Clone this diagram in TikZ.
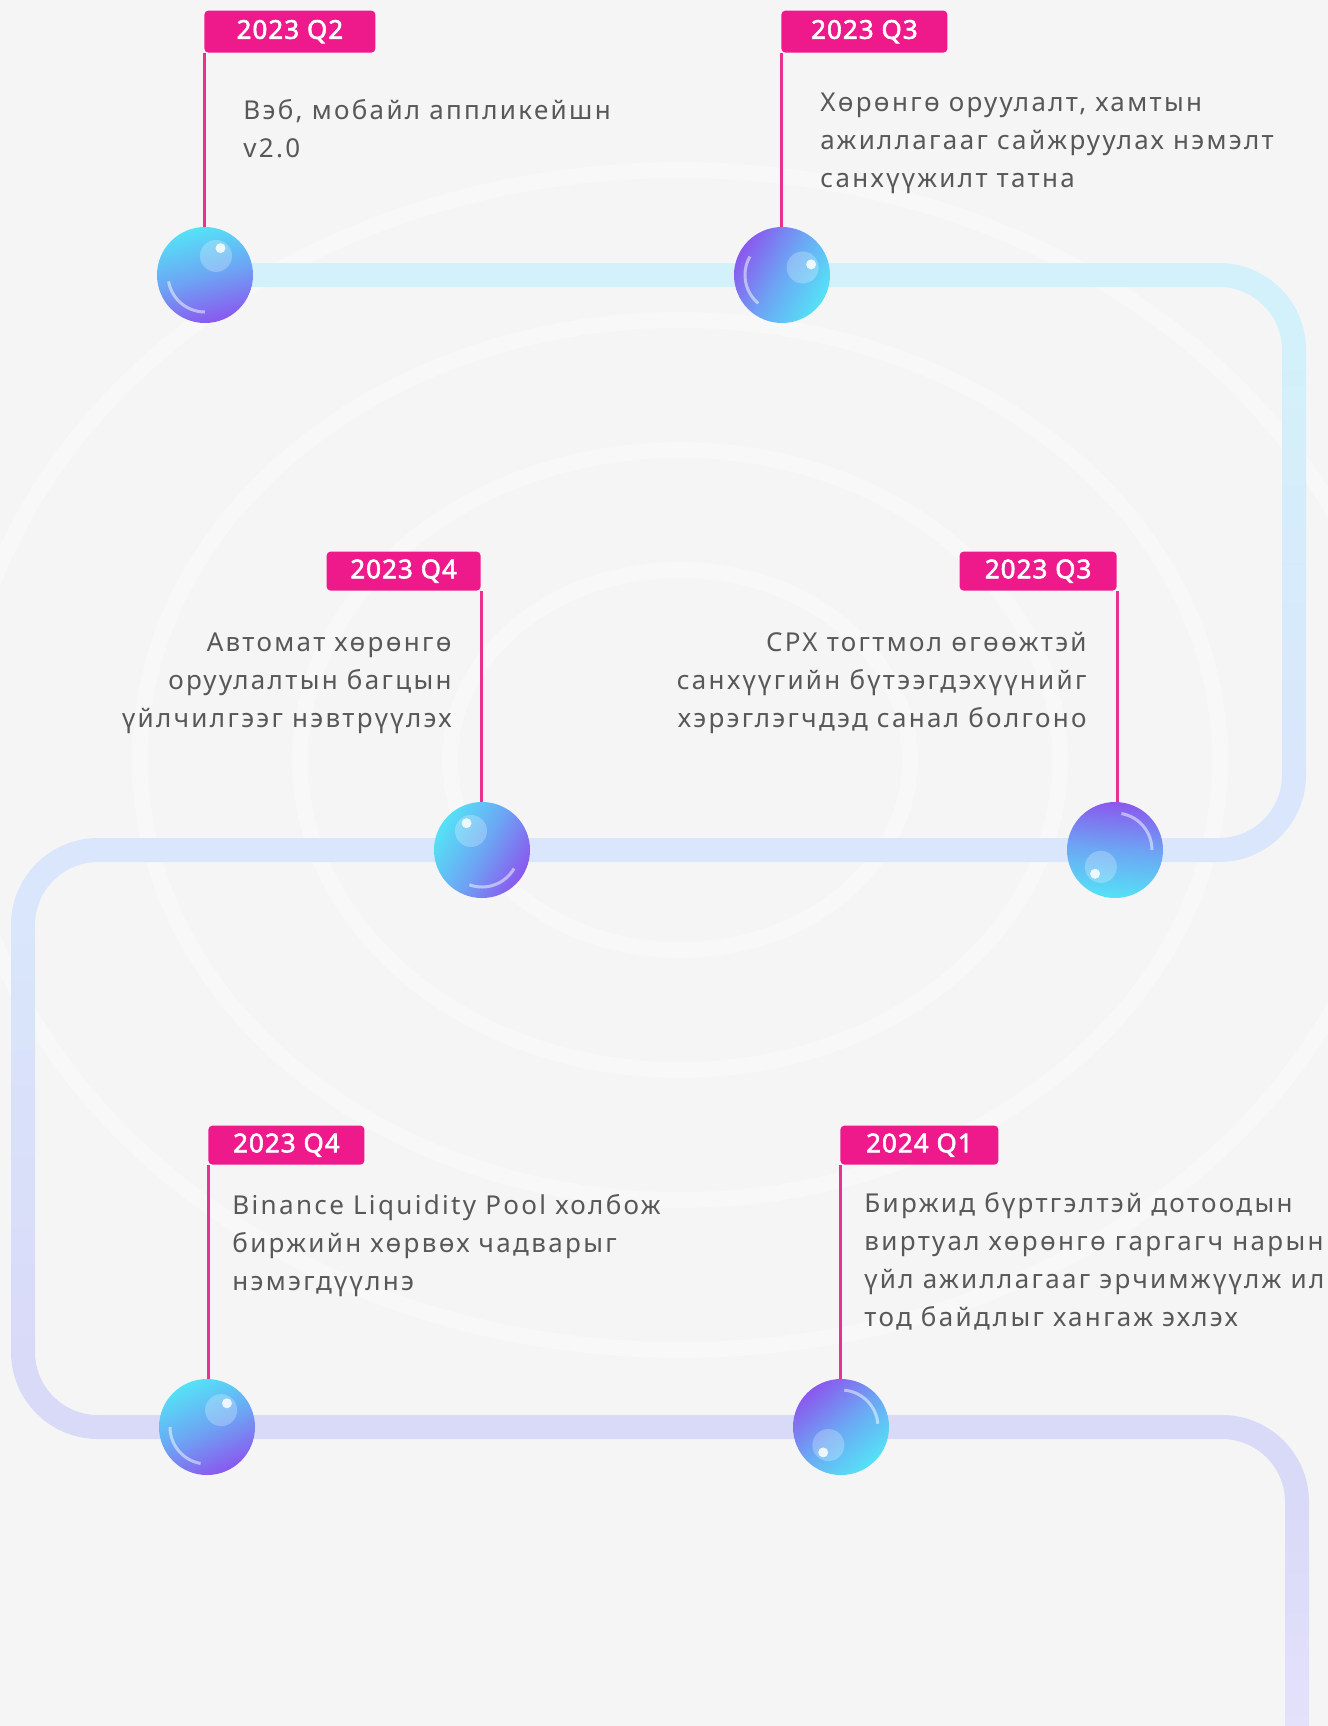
\documentclass[tikz,border=0pt]{standalone}
\usepackage{fontspec}
\setmainfont{Noto Sans}[LetterSpace=9]
\newfontfamily\tagfont{Noto Sans}[FakeBold=2.2, LetterSpace=4]
\definecolor{bgc}{HTML}{F5F5F6}
\definecolor{pinkc}{HTML}{EE1A8C}
\definecolor{stemc}{HTML}{E8328F}
\definecolor{textc}{HTML}{585858}
\definecolor{trkA}{HTML}{D3F1FA}
\definecolor{trkB}{HTML}{D9E6FB}
\definecolor{trkC}{HTML}{D9DAF8}
\definecolor{trkD}{HTML}{E4E1FA}
\definecolor{ballcyan}{HTML}{55E2F6}
\definecolor{ballblue}{HTML}{6CA6F4}
\definecolor{ballpurple}{HTML}{8A58EE}
\tikzset{
  tag/.style={fill=pinkc, text=white, font=\tagfont\fontsize{13}{15}\selectfont,
    rounded corners=2pt, minimum height=19.5pt, inner sep=0pt},
  desc/.style={text=textc, font=\fontsize{13}{19}\selectfont, inner sep=0pt},
  stem/.style={draw=stemc, line width=1.5pt},
  track/.style={line width=12pt, rounded corners=37.5pt},
  ball/.style={circle, minimum size=48pt, inner sep=0pt},
  ripple/.style={draw=white, line width=8pt, opacity=0.3}
}
\newcommand\myglint[2]{%
  \fill[white, opacity=.25] ([shift={(#2:22)}]#1.center) circle[radius=16];
  \fill[white, opacity=.85] ([shift={(#2:31)}]#1.center) circle[radius=5];
  \draw[white, opacity=.5, line width=1.5pt] ([shift={(#2+150:37)}]#1.center)
     arc[start angle=#2+150, end angle=#2+230, radius=37];
}
\begin{document}
\begin{tikzpicture}[x=0.5pt,y=-0.5pt]
\useasboundingbox (0,0) rectangle (1328,1726);
\fill[bgc] (0,0) rectangle (1328,1726);
% faint ripples
\draw[ripple] (680,760) ellipse[x radius=230, y radius=190];
\draw[ripple] (680,760) ellipse[x radius=380, y radius=310];
\draw[ripple] (680,760) ellipse[x radius=540, y radius=440];
\draw[ripple] (680,760) ellipse[x radius=720, y radius=590];

% coordinates of the track corners
\coordinate (r1) at (1294,275);
\coordinate (r2) at (1294,850);
\coordinate (l2) at (23,850);
\coordinate (l3) at (23,1427);
\coordinate (r3) at (1297,1427);

% balls (positions)
\node[ball] (b1) at (205,275) {};
\node[ball] (b2) at (782,275) {};
\node[ball] (b3) at (482,850) {};
\node[ball] (b4) at (1115,850) {};
\node[ball] (b5) at (207,1427) {};
\node[ball] (b6) at (841,1427) {};

% track
\draw[track, trkA] (b1.center) -- (b2.center) -- (r1) -- (1294,351);
\shade[top color=trkA, bottom color=trkB] (1282,350) rectangle (1306,776);
\draw[track, trkB] (1294,775) -- (r2) -- (b4.center) -- (b3.center) -- (l2) -- (23,926);
\shade[top color=trkB, bottom color=trkC] (11,925) rectangle (35,1353);
\draw[track, trkC] (23,1352) -- (l3) -- (b5.center) -- (b6.center) -- (r3) -- (1297,1503);
\shade[top color=trkC, bottom color=trkD] (1285,1502) rectangle (1309,1726);

% tags
\node[tag, anchor=south west, minimum width=85.5pt, minimum height=21pt] (t1) at (204,53) {2023 Q2};
\node[tag, anchor=south west, minimum width=83pt, minimum height=21pt] (t2) at (781,53) {2023 Q3};
\node[tag, anchor=south east, minimum width=77pt] (t3) at (481,591) {2023 Q4};
\node[tag, anchor=south east, minimum width=78.5pt] (t4) at (1117,591) {2023 Q3};
\node[tag, anchor=south west, minimum width=78pt] (t5) at (208,1165) {2023 Q4};
\node[tag, anchor=south west, minimum width=79pt] (t6) at (840,1165) {2024 Q1};

% stems
\draw[stem] (t1.south west) -- (t1.south west |- b1.center);
\draw[stem] (t2.south west) -- (t2.south west |- b2.center);
\draw[stem] (t3.south east) -- (t3.south east |- b3.center);
\draw[stem] (t4.south east) -- (t4.south east |- b4.center);
\draw[stem] (t5.south west) -- (t5.south west |- b5.center);
\draw[stem] (t6.south west) -- (t6.south west |- b6.center);

% ball shading
\shade[top color=ballcyan, bottom color=ballpurple, middle color=ballblue, shading angle=15] (b1) circle[radius=48];
\shade[top color=ballpurple, bottom color=ballcyan, middle color=ballblue, shading angle=60] (b2) circle[radius=48];
\shade[top color=ballcyan, bottom color=ballpurple, middle color=ballblue, shading angle=60] (b3) circle[radius=48];
\shade[top color=ballpurple, bottom color=ballcyan, middle color=ballblue, shading angle=-5] (b4) circle[radius=48];
\shade[top color=ballcyan, bottom color=ballpurple, middle color=ballblue, shading angle=25] (b5) circle[radius=48];
\shade[top color=ballpurple, bottom color=ballcyan, middle color=ballblue, shading angle=40] (b6) circle[radius=48];
\myglint{b1}{-60}
\myglint{b2}{-20}
\myglint{b3}{-120}
\myglint{b4}{130}
\myglint{b5}{-50}
\myglint{b6}{125}

% texts (anchored at the baseline of the last line)
\node[desc, anchor=base west, align=left] (x1) at (243,157) {Вэб, мобайл аппликейшн\\v2.0};
\node[desc, anchor=base west, align=left] (x2) at (820,187) {Хөрөнгө оруулалт, хамтын\\ажиллагааг сайжруулах нэмэлт\\санхүүжилт татна};
\node[desc, anchor=base east, align=right] (x3) at (452,727) {Автомат хөрөнгө\\оруулалтын багцын\\үйлчилгээг нэвтрүүлэх};
\node[desc, anchor=base east, align=right] (x4) at (1087,727) {CPX тогтмол өгөөжтэй\\санхүүгийн бүтээгдэхүүнийг\\хэрэглэгчдэд санал болгоно};
\node[desc, anchor=base west, align=left] (x5) at (232,1290) {Binance Liquidity Pool холбож\\биржийн хөрвөх чадварыг\\нэмэгдүүлнэ};
\node[desc, anchor=base west, align=left] (x6) at (864,1326) {Биржид бүртгэлтэй дотоодын\\виртуал хөрөнгө гаргагч нарын\\үйл ажиллагааг эрчимжүүлж ил\\тод байдлыг хангаж эхлэх};
\end{tikzpicture}
\end{document}
